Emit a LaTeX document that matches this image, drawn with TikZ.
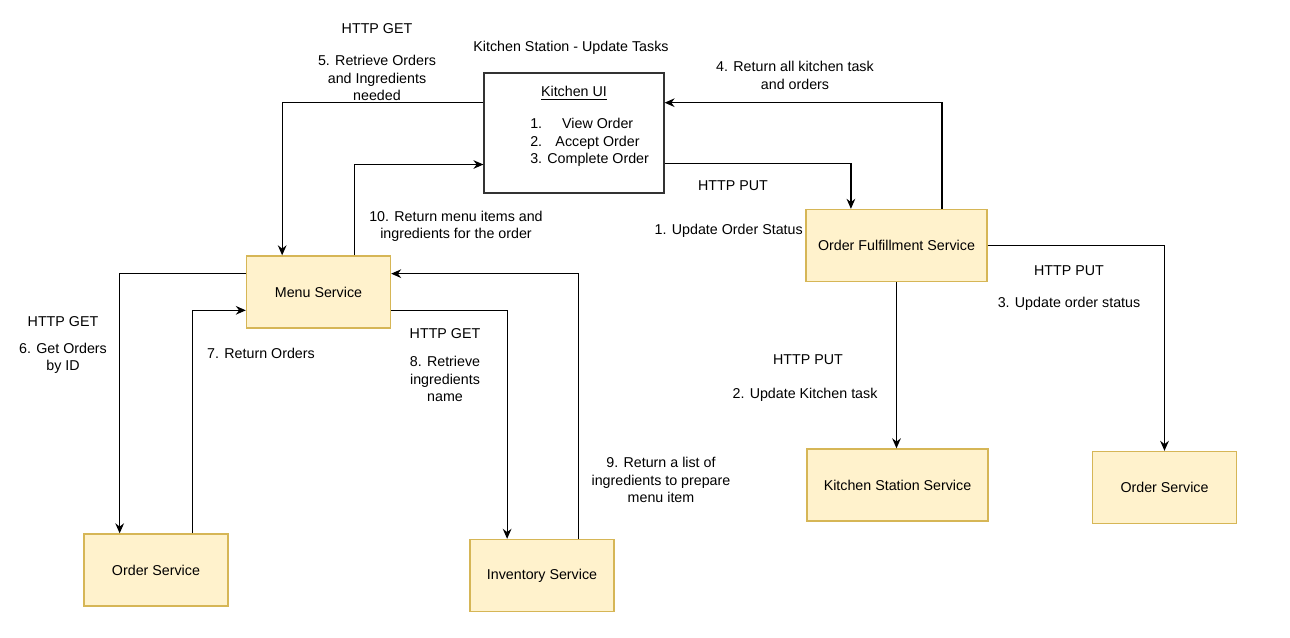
\documentclass[tikz,border=0pt]{standalone}
\usepackage{fontspec}
\setmainfont{Liberation Sans}
\usepackage{tikz}
\usetikzlibrary{arrows.meta,positioning,calc}
\definecolor{svcfill}{HTML}{FFF2CC}
\definecolor{svcdraw}{HTML}{D6B656}
\tikzstyle{service} = [rectangle, draw=svcdraw, fill=svcfill, line width=1pt,
    text centered, minimum width=108pt, minimum height=54pt]
\tikzstyle{widesvc} = [service, minimum width=135.75pt]
\tikzstyle{uibox}   = [rectangle, draw=black!80, line width=0.9pt,
    minimum width=135pt, minimum height=90pt]
\tikzstyle{line}    = [draw, line width=0.9pt, -{Stealth[length=7.5pt,width=6.5pt]}]
\tikzstyle{lbl}     = [align=center, inner sep=0pt]

\begin{document}
\begin{tikzpicture}[x=0.75pt, y=-0.75pt, font=\fontsize{10.7}{12.9}\selectfont]
    \useasboundingbox (0,0) rectangle (1290,638);
    % Place nodes
    \node [uibox]   (kitchenUI)  at (574,133)     {};
    \node [lbl]     (uiTitle)    at (574,93)      {\underline{Kitchen UI}};
    \node [lbl, align=left, anchor=west] (uiSteps) at (530,142.5)
        {1.\hspace{15pt}View Order\\2.\hspace{10pt}Accept Order\\3. Complete Order};
    \node [service] (menu)       at (318.5,292)   {Menu Service};
    \node [widesvc] (fulfil)     at (896.5,245.5) {Order Fulfillment Service};
    \node [service] (orderLeft)  at (156,570)     {Order Service};
    \node [service] (inventory)  at (542,575.5)   {Inventory Service};
    \node [widesvc] (kitchenSvc) at (897.5,485)   {Kitchen Station Service};
    \node [service] (orderRight) at (1164.5,487.5) {Order Service};

    % Labels
    \node [lbl] (lblTitle) at (571,48)    {Kitchen Station - Update Tasks};
    \node [lbl] (lblGet5)  at (377,29)    {HTTP GET};
    \node [lbl] (lbl5)     at (377,78)    {5. Retrieve Orders\\and Ingredients\\needed};
    \node [lbl] (lbl4)     at (795,75.5)  {4. Return all kitchen task\\and orders};
    \node [lbl] (lblPut1)  at (733,186)   {HTTP PUT};
    \node [lbl, anchor=east] (lbl1) at (803,231) {1. Update Order Status};
    \node [lbl] (lbl10)    at (456,226.5) {10. Return menu items and\\ingredients for the order};
    \node [lbl] (lblGet6)  at (63,322)    {HTTP GET};
    \node [lbl] (lbl6)     at (63,358.5)  {6. Get Orders\\by ID};
    \node [lbl] (lbl7)     at (261,353)   {7. Return Orders};
    \node [lbl] (lblGet8)  at (445,334)   {HTTP GET};
    \node [lbl] (lbl8)     at (445,379)   {8. Retrieve\\ingredients\\name};
    \node [lbl] (lbl9)     at (661,480)   {9. Return a list of\\ingredients to prepare\\menu item};
    \node [lbl] (lblPut2)  at (808,360)   {HTTP PUT};
    \node [lbl] (lbl2)     at (805,395)   {2. Update Kitchen task};
    \node [lbl] (lblPut3)  at (1069,271)  {HTTP PUT};
    \node [lbl] (lbl3)     at (1069,304)  {3. Update order status};

    % Connectors
    \path [line] ($(kitchenUI.north west)!.25!(kitchenUI.south west)$) -| ($(menu.north west)!.25!(menu.north east)$);
    \path [line] ($(menu.north west)!.75!(menu.north east)$) |- ($(kitchenUI.north west)!.76!(kitchenUI.south west)$);
    \path [line] ($(kitchenUI.north east)!.75!(kitchenUI.south east)$) -| ($(fulfil.north west)!.25!(fulfil.north east)$);
    \path [line] ($(fulfil.north west)!.75!(fulfil.north east)$) |- ($(kitchenUI.north east)!.25!(kitchenUI.south east)$);
    \path [line] (fulfil.east) -| (orderRight.north);
    \path [line] (fulfil.south) -- (kitchenSvc.north -| fulfil.south);
    \path [line] ($(menu.north west)!.25!(menu.south west)$) -| ($(orderLeft.north west)!.25!(orderLeft.north east)$);
    \path [line] ($(orderLeft.north west)!.75!(orderLeft.north east)$) |- ($(menu.north west)!.75!(menu.south west)$);
    \path [line] ($(menu.north east)!.75!(menu.south east)$) -| ($(inventory.north west)!.26!(inventory.north east)$);
    \path [line] ($(inventory.north west)!.75!(inventory.north east)$) |- ($(menu.north east)!.25!(menu.south east)$);
\end{tikzpicture}
\end{document}
